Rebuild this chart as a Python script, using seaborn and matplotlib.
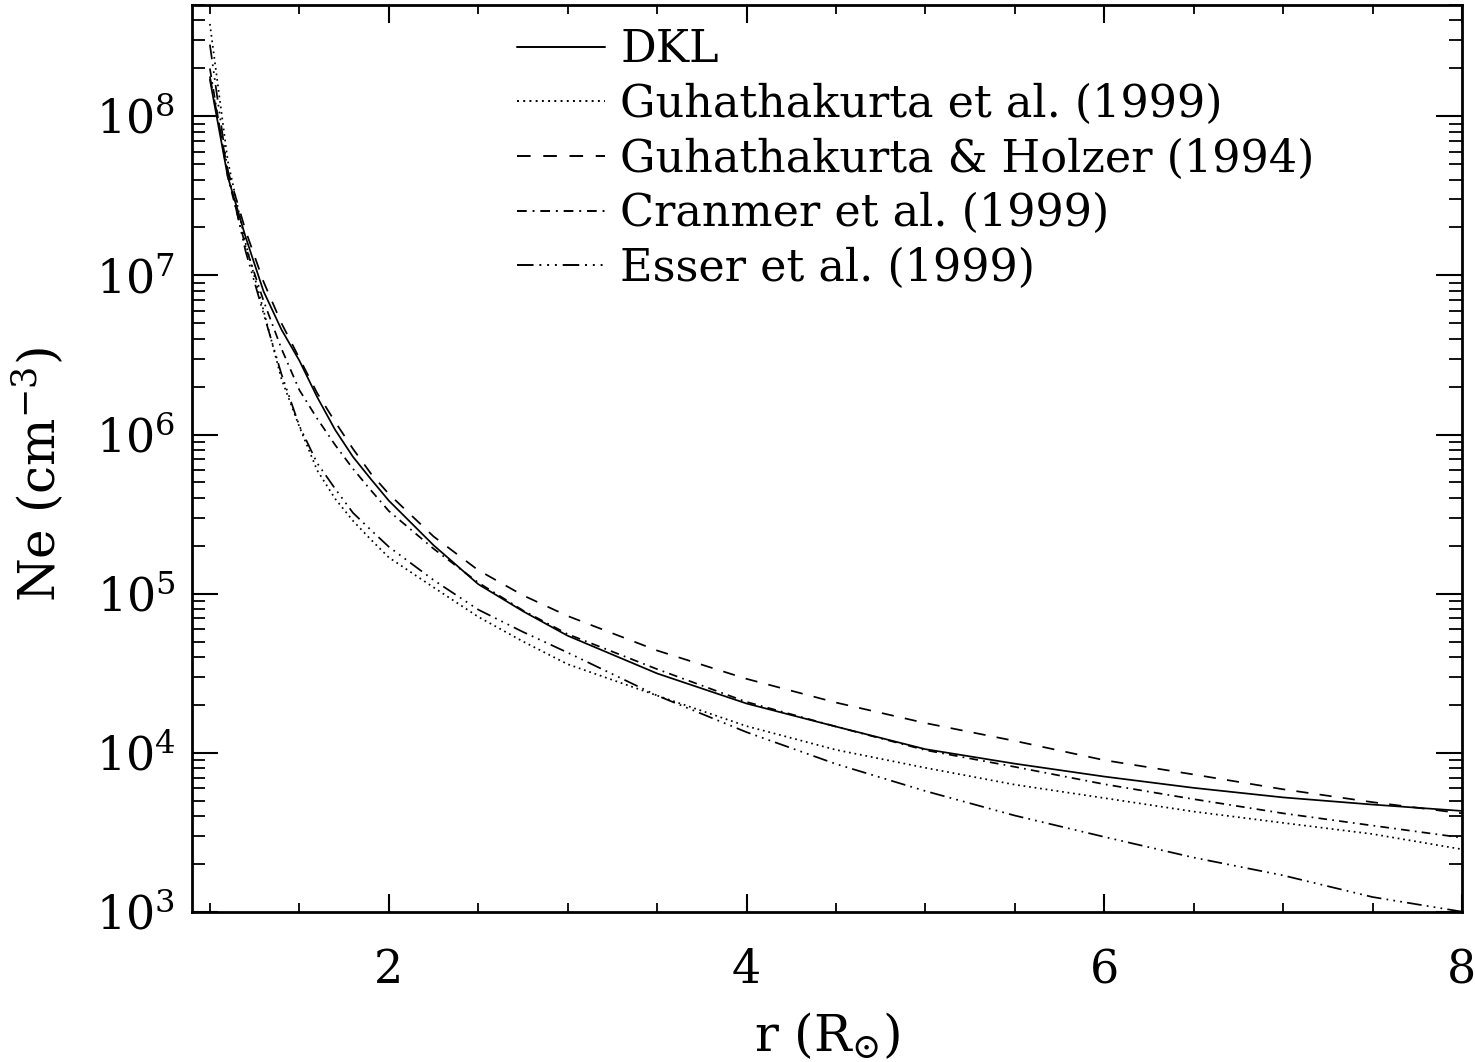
import numpy as np
import pandas as pd
import matplotlib
matplotlib.use("Agg")
import matplotlib.pyplot as plt
import seaborn as sns
from matplotlib.ticker import LogLocator, MultipleLocator, NullFormatter

# ---- data (log10 of electron density in cm^-3) ----
r = [1.0, 1.1, 1.2, 1.3, 1.4, 1.5, 1.6, 1.7, 1.8, 1.9, 2.0, 2.25, 2.5, 2.75,
     3.0, 3.5, 4.0, 4.5, 5.0, 5.5, 6.0, 6.5, 7.0, 7.5, 8.0]
log_dkl = [8.23, 7.62, 7.24, 6.90, 6.66, 6.465, 6.235, 6.03, 5.86, 5.72, 5.585,
           5.305, 5.06, 4.89, 4.736, 4.499, 4.31, 4.165, 4.023, 3.932, 3.851,
           3.78, 3.72, 3.675, 3.635]
log_guh99 = [8.58, 7.72, 7.20, 6.78, 6.35, 6.05, 5.775, 5.597, 5.458, 5.34,
             5.228, 5.04, 4.855, 4.70, 4.557, 4.36, 4.168, 4.019, 3.906, 3.80,
             3.716, 3.631, 3.56, 3.49, 3.394]
log_gh94 = [8.25, 7.66, 7.28, 6.96, 6.70, 6.48, 6.26, 6.08, 5.91, 5.755, 5.627,
            5.36, 5.148, 4.99, 4.86, 4.643, 4.465, 4.316, 4.187, 4.075, 3.954,
            3.864, 3.771, 3.69, 3.62]
log_cran = [8.30, 7.62, 7.18, 6.84, 6.54, 6.28, 6.10, 5.935, 5.785, 5.65, 5.52,
            5.283, 5.07, 4.895, 4.746, 4.526, 4.32, 4.165, 4.017, 3.912, 3.803,
            3.709, 3.62, 3.543, 3.467]
log_esser = [8.45, 7.65, 7.15, 6.76, 6.38, 6.055, 5.82, 5.66, 5.508, 5.40,
             5.295, 5.086, 4.90, 4.76, 4.63, 4.36, 4.13, 3.93, 3.76, 3.606,
             3.472, 3.342, 3.23, 3.094, 3.002]

labels = ["DKL", "Guhathakurta et al. (1999)", "Guhathakurta & Holzer (1994)",
          "Cranmer et al. (1999)", "Esser et al. (1999)"]
series = [log_dkl, log_guh99, log_gh94, log_cran, log_esser]
styles = ["-", (0, (1.0, 2.2)), (0, (7.0, 6.5)), (0, (5.0, 3.0, 1.0, 3.0)),
          (0, (8.5, 3.0, 1.0, 3.0, 1.0, 3.0, 1.0, 3.0))]

sns.set_theme(style="ticks")
plt.rcParams["font.family"] = ["DejaVu Serif"]
plt.rcParams["mathtext.fontset"] = "dejavuserif"
for k in ["text.color", "axes.labelcolor", "xtick.color", "ytick.color",
          "axes.edgecolor"]:
    plt.rcParams[k] = "black"

fig = plt.figure(figsize=(14.75, 10.62), dpi=100)
ax = fig.add_axes([192 / 1475, 1 - 912 / 1062, (1462 - 192) / 1475, (912 - 5) / 1062])

for lab, vals, ls in zip(labels, series, styles):
    df = pd.DataFrame({"r": r, "ne": np.power(10.0, vals)})
    sns.lineplot(data=df, x="r", y="ne", ax=ax, color="black", lw=1.25,
                 linestyle=ls, label=lab, sort=False)

ax.set_yscale("log")
ax.set_xlim(0.9, 8.0)
ax.set_ylim(1e3, 5e8)

ax.xaxis.set_major_locator(MultipleLocator(2))
ax.xaxis.set_minor_locator(MultipleLocator(0.5))
ax.yaxis.set_major_locator(LogLocator(base=10, numticks=20))
ax.yaxis.set_minor_locator(LogLocator(base=10, subs=np.arange(2, 10), numticks=20))
ax.yaxis.set_minor_formatter(NullFormatter())

ax.tick_params(axis="both", which="both", direction="in", top=True, right=True,
               color="black", labelcolor="black")
ax.tick_params(axis="x", which="major", length=13, width=1.5, pad=26, labelsize=33)
ax.tick_params(axis="x", which="minor", length=6.5, width=1.3)
ax.tick_params(axis="y", which="major", length=19, width=1.5, pad=12, labelsize=33)
ax.tick_params(axis="y", which="minor", length=9.5, width=1.3)

for s in ax.spines.values():
    s.set_linewidth(2.0)
    s.set_color("black")

ax.set_xlabel(r"r (R$_{\odot}$)", fontsize=36, va="top")
ax.xaxis.set_label_coords(0.5, -0.1096)
ax.set_ylabel(r"Ne (cm$^{-3}$)", fontsize=36)
ax.yaxis.set_label_coords(-0.098, 0.482)

leg = ax.legend(loc="upper left", bbox_to_anchor=(0.2559, 0.9747), frameon=False,
                fontsize=32, handlelength=1.98, handletextpad=0.34,
                labelspacing=0.26, borderaxespad=0, borderpad=0)
for h in leg.get_lines():
    h.set_linewidth(1.4)

fig.savefig("out.png", dpi=100, facecolor="white")
